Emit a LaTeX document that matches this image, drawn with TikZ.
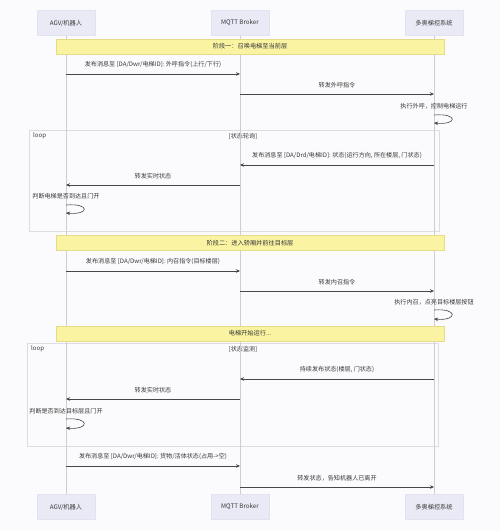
\documentclass[tikz,border=0pt]{standalone}
\usepackage{fontspec}
\setmainfont{Noto Sans CJK SC}
\usetikzlibrary{arrows.meta}
\definecolor{actorfill}{HTML}{EAEAF6}
\definecolor{actorline}{HTML}{E2E2F0}
\definecolor{notefill}{HTML}{FAF4A2}
\definecolor{noteline}{HTML}{E4DC88}
\definecolor{lifegray}{HTML}{CDCDD6}
\definecolor{msggray}{HTML}{474747}
\definecolor{txtgray}{HTML}{383838}
\definecolor{paper}{HTML}{FBFBFD}
\tikzset{actor/.style={draw=actorline, fill=actorfill, minimum width=58pt, minimum height=25pt, inner sep=0pt, font=\fontsize{6.2}{7}\selectfont, text=txtgray},
%yellow phase bars
phase/.style={draw=noteline, fill=notefill, minimum width=388pt, minimum height=15pt, inner sep=0pt, font=\fontsize{6.2}{7}\selectfont, text=txtgray},
msg/.style={draw=msggray, line width=0.6pt, -{Stealth[length=4pt,width=3.5pt]}},
lbl/.style={font=\fontsize{6.1}{7}\selectfont, text=txtgray, inner sep=0pt},
life/.style={draw=lifegray, line width=0.5pt},
loopbox/.style={draw=lifegray!70, line width=0.5pt}}

\begin{document}
\begin{tikzpicture}[x=1pt,y=-1pt]
\fill[paper] (0,0) rectangle (500,531);
\useasboundingbox (0,0) rectangle (500,531);

% loops
\draw[loopbox] (29,130) rectangle (439,231);
\node[lbl, anchor=west] (lp1) at (33,136) {loop};
\node[lbl] (cond1) at (243,136) {[状态轮询]};
\draw[loopbox] (27,343) rectangle (438,446);
\node[lbl, anchor=west] (lp2) at (31,349) {loop};
\node[lbl] (cond2) at (243,349) {[状态监测]};

% participants
\node[actor] (agvT) at (66,23) {AGV/机器人};
\node[actor] (brkT) at (240,23) {MQTT Broker};
\node[actor] (elvT) at (434,23) {多奥梯控系统};
\node[actor] (agvB) at (66,507) {AGV/机器人};
\node[actor] (brkB) at (240,507) {MQTT Broker};
\node[actor] (elvB) at (434,507) {多奥梯控系统};

\foreach \p in {agv,brk,elv}
     \draw[life] (\p T) -- (\p B);

% phases
\node[phase] (ph1) at (250,46.5) {阶段一：召唤电梯至当前层};
\node[phase] (ph2) at (250,243) {阶段二：进入轿厢并前往目标层};
\node[phase] (ph3) at (250,333.5) {电梯开始运行...};

% messages
\foreach \ya/\from/\to/\txt [count=\i] in {
     74/agvT/brkT/{发布消息至 [DA/Dwr/电梯ID]: 外呼指令(上行/下行)},
     94/brkT/elvT/{转发外呼指令},
     165/elvT/brkT/{发布消息至 [DA/Drd/电梯ID]: 状态(运行方向, 所在楼层, 门状态)},
     185/brkT/agvT/{转发实时状态},
     271/agvT/brkT/{发布消息至 [DA/Dwr/电梯ID]: 内召指令(目标楼层)},
     291/brkT/elvT/{转发内召指令},
     379/elvT/brkT/{持续发布状态(楼层, 门状态)},
     399/brkT/agvT/{转发实时状态},
     466/agvT/brkT/{发布消息至 [DA/Dwr/电梯ID]: 货物/活体状态(占用->空)},
     487/brkT/elvT/{转发状态，告知机器人已离开}}
     \draw[msg] (\from |- 0,\ya) -- node[lbl, above=6pt] (msg\i) {\txt} (\to |- 0,\ya);

% self calls
\node[lbl] (self1) at (434,106) {执行外呼，控制电梯运行};
\draw[msg] (elvT |- 0,115) .. controls +(24,-2) and +(24,2) .. (elvT |- 0,123);
\node[lbl] (self2) at (66,196) {判断电梯是否到达且门开};
\draw[msg] (agvT |- 0,205) .. controls +(24,-2) and +(24,2) .. (agvT |- 0,213);
\node[lbl] (self3) at (434,302) {执行内召，点亮目标楼层按钮};
\draw[msg] (elvT |- 0,310) .. controls +(24,-2) and +(24,2) .. (elvT |- 0,319);
\node[lbl] (self4) at (66,411) {判断是否到达目标层且门开};
\draw[msg] (agvT |- 0,419) .. controls +(24,-2) and +(24,2) .. (agvT |- 0,428);

\end{tikzpicture}
\end{document}
